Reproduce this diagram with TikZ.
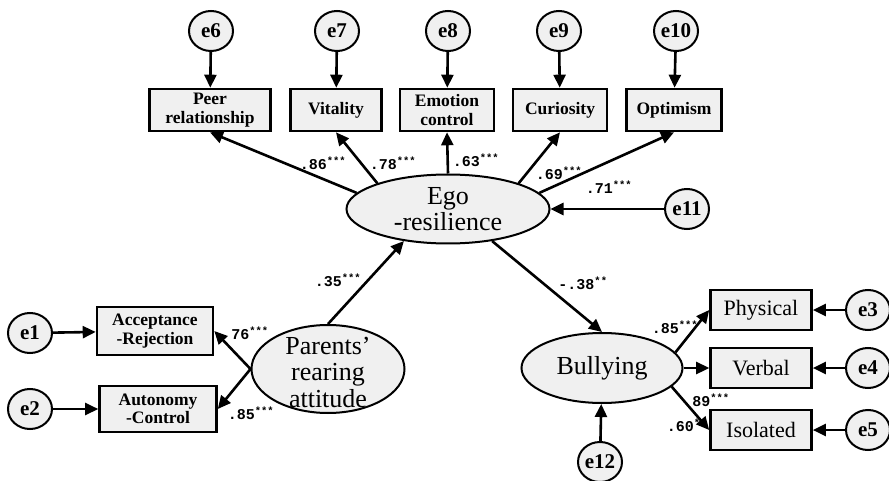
\documentclass[tikz,border=0pt]{standalone}
\usepackage{fontspec}
\setmainfont{Liberation Serif}
\newfontfamily\coeffont{Liberation Mono}
\usetikzlibrary{shapes.geometric,arrows.meta}
\definecolor{shade}{HTML}{F0F0F0}
\tikzset{
  err/.style={ellipse, draw, line width=2pt, fill=shade, minimum width=44pt, minimum height=40pt, inner sep=0pt, font=\bfseries\fontsize{21}{22}\selectfont},
  obs/.style={rectangle, draw, line width=2.6pt, fill=shade, minimum height=42pt, inner sep=0pt, align=center, font=\bfseries\fontsize{17.5}{18.5}\selectfont},
  obsbig/.style={obs, font=\fontsize{22}{24}\selectfont, minimum width=101pt, minimum height=40pt},
  lat/.style={ellipse, draw, line width=2pt, fill=shade, inner sep=0pt, align=center, font=\fontsize{26}{26.5}\selectfont},
  arr/.style={-{Triangle[length=13pt,width=12pt]}, line width=2.6pt},
  coef/.style={inner sep=0pt, font=\coeffont\bfseries\fontsize{15}{15}\selectfont}
}
\begin{document}
\begin{tikzpicture}[x=1pt,y=-1pt]
      \useasboundingbox (0,0) rectangle (889,481);

      \node (E6) at (211,31) [err] {e6};
      \node (E7) at (337,31) [err] {e7};
      \node (E8) at (448,31) [err] {e8};
      \node (E9) at (559,31) [err] {e9};
      \node (E10) at (676,31) [err] {e10};

      \node (Peer) at (210,110) [obs, minimum width=121pt] {Peer\\relationship};
      \node (Vital) at (336,110) [obs, minimum width=91pt] {Vitality};
      \node (Emot) at (447,110) [obs, minimum width=94pt] {Emotion\\control};
      \node (Curi) at (560,110) [obs, minimum width=94pt] {Curiosity};
      \node (Optim) at (674,110) [obs, minimum width=95pt] {Optimism};

      \node (Ego) at (448,209) [lat, minimum width=203pt, minimum height=69pt] {Ego\\-resilience};
      \node (E11) at (687,209) [err] {e11};

      \node (E1) at (30,333) [err] {e1};
      \node (E2) at (30,409) [err] {e2};
      \node (Acc) at (155,331) [obs, minimum width=116pt, minimum height=48pt] {Acceptance\\-Rejection};
      \node (Aut) at (158,409) [obs, minimum width=117pt, minimum height=46pt] {Autonomy\\-Control};
      \node (Par) at (328,369) [lat, minimum width=153pt, minimum height=88pt] {};
      \node (ParText) at (328,372) [align=center, inner sep=0pt, font=\fontsize{26}{26.5}\selectfont] {Parents'\\rearing\\attitude};

      \node (Bull) at (602,368) [lat, minimum width=161pt, minimum height=70pt] {Bullying};
      \node (Phys) at (761,310) [obsbig] {Physical};
      \node (Verb) at (761,368) [obsbig] {Verbal};
      \node (Iso) at (761,430) [obsbig] {Isolated};
      \node (E3) at (868,310) [err] {e3};
      \node (E4) at (868,368) [err] {e4};
      \node (E5) at (868,430) [err] {e5};
      \node (E12) at (600,462) [err] {e12};

      \foreach \e/\b in {E6/Peer,E7/Vital,E8/Emot,E9/Curi,E10/Optim}
        \draw[arr] (\e) -- (\b);
      \foreach \a/\b in {170/Peer,160/Vital,90/Emot,20/Curi,10/Optim}
        \draw[arr] (Ego.\a) -- (\b.south);
      \draw[arr] (E11) -- (Ego.east);

      \draw[arr] (E1) -- (Acc);
      \draw[arr] (E2) -- (Aut);
      \draw[arr] (Par.west) -- (Acc.east);
      \draw[arr] (Par.west) -- (Aut.east);
      \draw[arr] (Par.north) -- (Ego.216);
      \draw[arr] (Ego.324) -- (Bull.north);

      \draw[arr] (Bull.12) -- (Phys.west);
      \draw[arr] (Bull) -- (Verb);
      \draw[arr] (Bull.345) -- (Iso.west);
      \foreach \e/\b in {E3/Phys,E4/Verb,E5/Iso}
        \draw[arr] (\e) -- (\b);
      \draw[arr] (E12) -- (Bull);

      \node (C1) at (323,163) [coef] {.86\textsuperscript{***}};
      \node (C2) at (393,163) [coef] {.78\textsuperscript{***}};
      \node (C3) at (476,160) [coef] {.63\textsuperscript{***}};
      \node (C4) at (559,173) [coef] {.69\textsuperscript{***}};
      \node (C5) at (609,187) [coef] {.71\textsuperscript{***}};
      \node (C6) at (338,280) [coef] {.35\textsuperscript{***}};
      \node (C7) at (583,283) [coef] {-.38\textsuperscript{**}};
      \node (C8) at (250,333) [coef] {76\textsuperscript{***}};
      \node (C9) at (251,413) [coef] {.85\textsuperscript{***}};
      \node (C10) at (675,327) [coef] {.85\textsuperscript{***}};
      \node (C11) at (711,400) [coef] {89\textsuperscript{***}};
      \node (C12) at (687,425) [coef] {.60\textsuperscript{**}};
    \end{tikzpicture}
\end{document}
